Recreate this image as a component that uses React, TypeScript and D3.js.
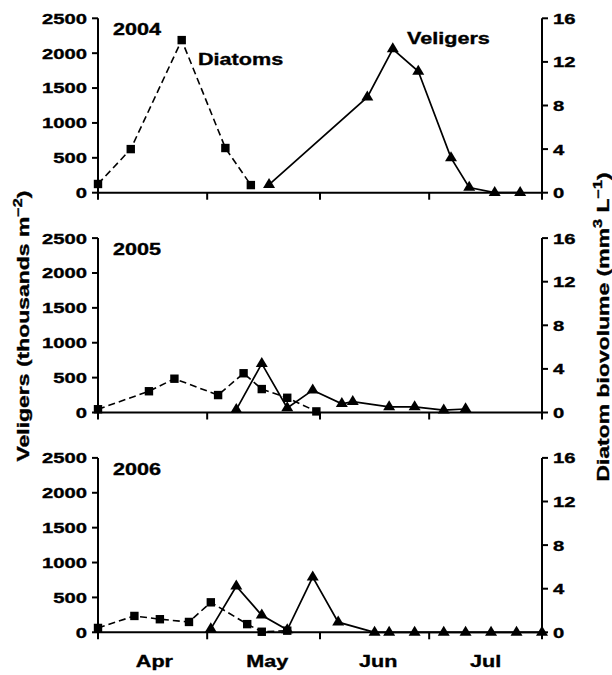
import React from "react";
import * as d3 from "d3";

// Days counted from 1 April
const years = ["2004", "2005", "2006"];

const diatomDays04 = [0, 9, 23, 35, 42];
const diatom04 = [0.8, 4.0, 14.0, 4.1, 0.7];
const veligerDays04 = [47, 74, 81, 88, 97, 102, 109, 116];
const veliger04 = [115, 1370, 2060, 1740, 500, 75, 0, 0];

const diatomDays05 = [0, 14, 21, 33, 40, 45, 52, 60];
const diatom05 = [0.3, 1.95, 3.1, 1.6, 3.6, 2.15, 1.35, 0.1];
const veligerDays05 = [38, 45, 52, 59, 67, 70, 80, 87, 95, 101];
const veliger05 = [40, 700, 65, 320, 125, 155, 80, 80, 35, 50];

const diatomDays06 = [0, 10, 17, 25, 31, 41, 45, 52];
const diatom06 = [0.4, 1.5, 1.2, 0.95, 2.75, 0.75, 0.05, 0.15];
const veligerDays06 = [31, 38, 45, 52, 59, 66, 76, 80, 87, 95, 101, 108, 115, 122];
const veliger06 = [50, 660, 245, 35, 790, 145, 0, 0, 0, 0, 0, 0, 0, 0];

const monthTickDays = [0, 30, 61, 91, 122];
const monthLabels = ["Apr", "May", "Jun", "Jul"];
const monthLabelDays = [15.5, 46.5, 77, 106.5];

const leftTicks = [0, 500, 1000, 1500, 2000, 2500];
const rightTicks = [0, 4, 8, 12, 16];

const panels = [
  { dd: diatomDays04, dv: diatom04, vd: veligerDays04, vv: veliger04 },
  { dd: diatomDays05, dv: diatom05, vd: veligerDays05, vv: veliger05 },
  { dd: diatomDays06, dv: diatom06, vd: veligerDays06, vv: veliger06 },
];

const FONT = "'Liberation Sans', Arial, Helvetica, sans-serif";
const SX = 1.35;

function T({ x, y, rotate = 0, anchor = "start", size = 15, dy = "0", children }: any) {
  return (
    <g transform={`translate(${x},${y}) rotate(${rotate}) scale(${SX},1)`}>
      <text textAnchor={anchor} fontSize={size} fontWeight="bold" fontFamily={FONT} dy={dy}
        fill="#000" stroke="#000" strokeWidth={0.35}>
        {children}
      </text>
    </g>
  );
}

const triPath = (w: number, h: number) =>
  `M0,${(-2 * h) / 3}L${w / 2},${h / 3}L${-w / 2},${h / 3}Z`;

export default function App() {
  const W = 612, H = 675;
  const x = d3.scaleLinear().domain([0, 122]).range([98, 542]);
  const panelTop0 = 18.3;
  const panelGap = 219.8;
  const ph = 174.4;

  return (
    <svg width={W} height={H} style={{ position: "absolute", left: 0, top: 0, background: "#fff" }}>
      <rect width={W} height={H} fill="#fff" />
      {panels.map((p, i) => {
        const top = panelTop0 + i * panelGap;
        const bottom = top + ph;
        const yL = d3.scaleLinear().domain([0, 2500]).range([bottom, top]);
        const yR = d3.scaleLinear().domain([0, 16]).range([bottom, top]);
        const dLine = d3.line<number>().x((_, k) => x(p.dd[k])).y((v) => yR(v));
        const vLine = d3.line<number>().x((_, k) => x(p.vd[k])).y((v) => yL(v));
        return (
          <g key={i}>
            <line x1={x(0)} x2={x(0)} y1={top} y2={bottom} stroke="#000" strokeWidth={2} />
            <line x1={x(122)} x2={x(122)} y1={top} y2={bottom} stroke="#000" strokeWidth={2} />
            <line x1={x(0) - 1} x2={x(122) + 1} y1={bottom} y2={bottom} stroke="#000" strokeWidth={2} />
            {leftTicks.map((t) => (
              <g key={"l" + t}>
                <line x1={x(0) - 6} x2={x(0)} y1={yL(t)} y2={yL(t)} stroke="#000" strokeWidth={2} />
                <T x={87} y={yL(t)} anchor="end" size={15} dy="0.36em">{t}</T>
              </g>
            ))}
            {rightTicks.map((t) => (
              <g key={"r" + t}>
                <line x1={x(122)} x2={x(122) + 6} y1={yR(t)} y2={yR(t)} stroke="#000" strokeWidth={2} />
                <T x={553} y={yR(t)} anchor="start" size={15} dy="0.36em">{t}</T>
              </g>
            ))}
            {monthTickDays.map((d) => (
              <line key={"m" + d} x1={x(d)} x2={x(d)} y1={bottom} y2={bottom + 7} stroke="#000" strokeWidth={2} />
            ))}
            <path d={dLine(p.dv) || ""} fill="none" stroke="#000" strokeWidth={1.6} strokeDasharray="7,4" />
            {p.dv.map((v, k) => (
              <rect key={"s" + k} x={x(p.dd[k]) - 4.2} y={yR(v) - 4.2} width={8.4} height={8.4} fill="#000" />
            ))}
            <path d={vLine(p.vv) || ""} fill="none" stroke="#000" strokeWidth={1.7} />
            {p.vv.map((v, k) => (
              <path key={"t" + k} d={triPath(12, 10)} transform={`translate(${x(p.vd[k])},${yL(v)})`} fill="#000" />
            ))}
            <T x={113} y={top + 17} size={16}>{years[i]}</T>
          </g>
        );
      })}
      <T x={198} y={65} size={16}>Diatoms</T>
      <T x={407} y={43.5} size={16}>Veligers</T>
      {monthLabels.map((m, k) => (
        <T key={m} x={x(monthLabelDays[k])} y={667} anchor="middle" size={16}>{m}</T>
      ))}
      <T x={29} y={326} rotate={-90} anchor="middle" size={17}>
        Veligers (thousands m<tspan dy={-7} fontSize={12}>−2</tspan><tspan dy={7}>)</tspan>
      </T>
      <T x={609} y={327} rotate={-90} anchor="middle" size={17}>
        Diatom biovolume (mm<tspan dy={-7} fontSize={12}>3</tspan><tspan dy={7}> L</tspan><tspan dy={-7} fontSize={12}>−1</tspan><tspan dy={7}>)</tspan>
      </T>
    </svg>
  );
}
